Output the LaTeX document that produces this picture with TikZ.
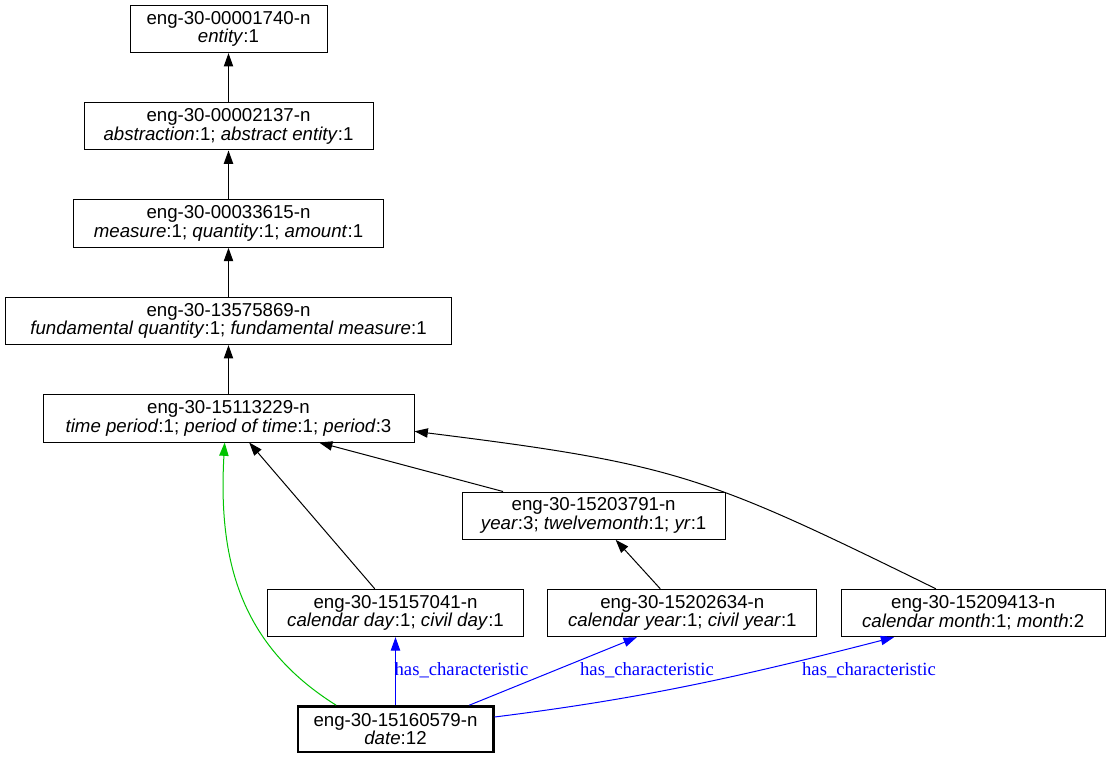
\documentclass[tikz,border=0pt]{standalone}
\usepackage{fontspec}
\setmainfont{Liberation Sans}
\newfontfamily\relfont{Liberation Serif}
\usetikzlibrary{positioning,arrows.meta}
\definecolor{EdgeBlue}{HTML}{0000FF}
\definecolor{EdgeGreen}{HTML}{00C400}

\begin{document}
\begin{tikzpicture}[
    x=0.75pt, y=-0.75pt,
    node distance=36.75pt and 17.5pt,
    synset/.style={rectangle, draw=black, line width=0.75pt, minimum height=35.5pt, inner sep=0pt, align=center, font=\fontsize{14}{14}\selectfont},
    focus/.style={synset, line width=2pt, minimum height=34pt},
    isa/.style={-{Triangle[length=10pt, width=7pt]}, line width=0.75pt, black},
    hasch/.style={isa, EdgeBlue},
    kindof/.style={isa, EdgeGreen},
    rel/.style={inner sep=0pt, font=\relfont\fontsize{14}{14}\selectfont, text=EdgeBlue}
  ]
    \useasboundingbox (0,0) rectangle (1111,759);

    % Hypernym chain
    \node (entity) [synset, minimum width=147.75pt] at (228.5,29) {eng-30-00001740-n\\\textit{entity}:1};
    \node (abstr) [synset, below=of entity, minimum width=216.75pt] {eng-30-00002137-n\\\textit{abstraction}:1; \textit{abstract entity}:1};
    \node (measure) [synset, below=of abstr, minimum width=232.5pt] {eng-30-00033615-n\\\textit{measure}:1; \textit{quantity}:1; \textit{amount}:1};
    \node (fundq) [synset, below=of measure, minimum width=334.5pt] {eng-30-13575869-n\\\textit{fundamental quantity}:1; \textit{fundamental measure}:1};
    \node (timep) [synset, below=of fundq, minimum width=278.25pt] {eng-30-15113229-n\\\textit{time period}:1; \textit{period of time}:1; \textit{period}:3};

    % Calendar units
    \node (calday) [synset, minimum width=192pt] at (395.5,613) {eng-30-15157041-n\\\textit{calendar day}:1; \textit{civil day}:1};
    \node (calyear) [synset, right=of calday, minimum width=201.75pt] {eng-30-15202634-n\\\textit{calendar year}:1; \textit{civil year}:1};
    \node (calmonth) [synset, right=of calyear, minimum width=198pt] {eng-30-15209413-n\\\textit{calendar month}:1; \textit{month}:2};
    \node (year) [synset, above=of calyear, xshift=-66.5pt, minimum width=197.25pt] {eng-30-15203791-n\\\textit{year}:3; \textit{twelvemonth}:1; \textit{yr}:1};

    % Focus synset
    \node (date) [focus, below=51pt of calday, minimum width=146.5pt] {eng-30-15160579-n\\\textit{date}:12};

    % Hypernym links
    \draw [isa] (abstr) -- (entity);
    \draw [isa] (measure) -- (abstr);
    \draw [isa] (fundq) -- (measure);
    \draw [isa] (timep) -- (fundq);
    \draw [isa] (calday) -- (timep);
    \draw [isa] (year) -- (timep);
    \draw [isa] (calyear) -- (year);
    \draw [isa] (calmonth.147) .. controls (706,476) and (677,464) .. (timep.-4);
    \draw [kindof] (date.158) .. controls (240,645) and (218,560) .. (timep.-99);

    % has_characteristic links
    \draw [hasch] (date) -- (calday);
    \draw [hasch] (date.18) -- (calyear.208);
    \draw [hasch] (date.7) .. controls (630,700) and (724,681) .. (calmonth.197);
    \node (lblday) [rel] at (461.5,670) {has\_characteristic};
    \node (lblyear) [rel] at (647,670) {has\_characteristic};
    \node (lblmonth) [rel] at (869,670) {has\_characteristic};
  \end{tikzpicture}
\end{document}
